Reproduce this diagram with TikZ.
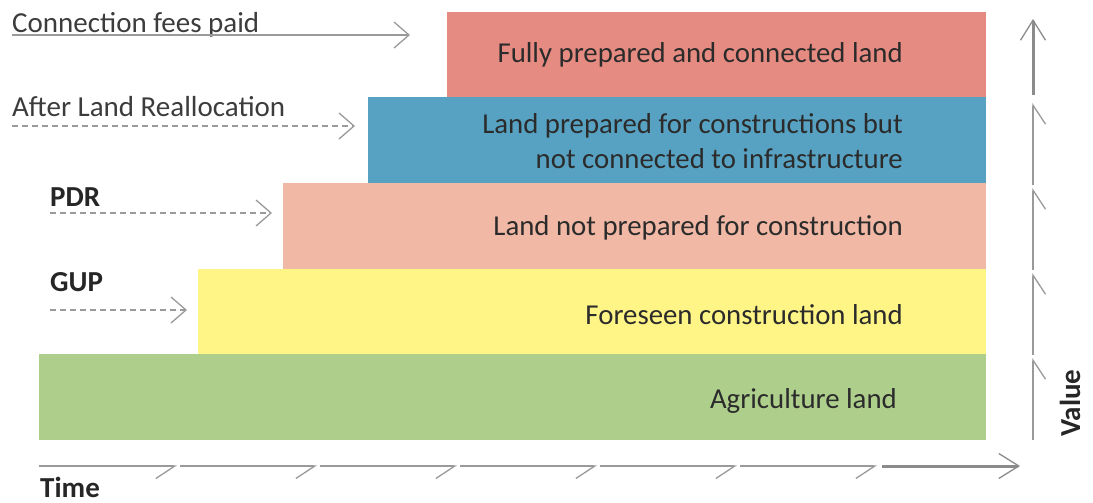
\documentclass[tikz,border=0pt]{standalone}
\usepackage{fontspec}
\setmainfont{Carlito}
\usepackage{tikz}
\usetikzlibrary{arrows.meta}

\definecolor{fullred}{HTML}{E68B81}
\definecolor{prepblue}{HTML}{57A2C2}
\definecolor{rawsalmon}{HTML}{F0B8A5}
\definecolor{foreyellow}{HTML}{FFF587}
\definecolor{agrigreen}{HTML}{AECE8C}
\definecolor{boxtext}{HTML}{2B2B2B}
\definecolor{labeltext}{HTML}{3C3C3C}
\definecolor{axisgray}{HTML}{9A9A9A}

\tikzset{
  band/.style={anchor=north west,inner sep=0pt,minimum width=#1},
  bandtext/.style={anchor=base east,inner sep=0pt,text=boxtext,font=\fontsize{28.8}{35}\selectfont},
  stagelabel/.style={anchor=base west,inner sep=0pt,text=labeltext,font=\fontsize{29}{34}\selectfont},
  boldlabel/.style={anchor=base west,inner sep=0pt,text=black!85,font=\fontsize{29}{34}\selectfont\bfseries},
  stagearrow/.style={draw=axisgray,line width=1.3pt,-{Straight Barb[length=15pt,width=26pt]}},
  axispart/.style={draw=axisgray,line width=1.3pt,-{Straight Barb[right,length=19pt,width=25pt]}},
  axisend/.style={draw=axisgray!90!black,line width=3pt,-{Straight Barb[length=20pt,width=25pt,line width=1.3pt]}}
}

\begin{document}
\begin{tikzpicture}[x=1pt,y=-1pt]
  \useasboundingbox (0,0) rectangle (1093,503);

  % land bands, from bottom to top
  \node [band=947pt,minimum height=86pt,fill=agrigreen]  (agri) at (39,354) {};
  \node [band=788pt,minimum height=85pt,fill=foreyellow] (fore) at (198,269) {};
  \node [band=703pt,minimum height=86pt,fill=rawsalmon]  (raw)  at (283,183) {};
  \node [band=618pt,minimum height=86pt,fill=prepblue]   (prep) at (368,97) {};
  \node [band=539pt,minimum height=85pt,fill=fullred]    (full) at (447,12) {};

  \node [bandtext] (agritext) at (897,408) {Agriculture land};
  \node [bandtext] (foretext) at (903,324) {Foreseen construction land};
  \node [bandtext] (rawtext)  at (903,235) {Land not prepared for construction};
  \node [bandtext,anchor=east,align=right] (preptext) at (903,141)
    {Land prepared for constructions but\\not connected to infrastructure};
  \node [bandtext] (fulltext) at (903,63) {Fully prepared and connected land};

  % stages on the left
  \node [stagelabel] (fees)  at (12,33)  {Connection fees paid};
  \node [stagelabel] (realloc) at (12,117) {After Land Reallocation};
  \node [boldlabel]  (pdr)   at (50,206) {PDR};
  \node [boldlabel]  (gup)   at (50,291) {GUP};

  \coordinate (feesfrom) at (12,35);   \coordinate (feesto) at (410,35);
  \coordinate (reallocfrom) at (12,126); \coordinate (reallocto) at (355,126);
  \coordinate (pdrfrom) at (50,213);   \coordinate (pdrto) at (272,213);
  \coordinate (gupfrom) at (50,310);   \coordinate (gupto) at (187,310);

  \draw [stagearrow] (feesfrom) -- (feesto);
  \draw [stagearrow,dash pattern=on 6pt off 4pt] (reallocfrom) -- (reallocto);
  \draw [stagearrow,dash pattern=on 6pt off 4pt] (pdrfrom) -- (pdrto);
  \draw [stagearrow,dash pattern=on 6pt off 4pt] (gupfrom) -- (gupto);

  % time axis
  \foreach \a/\b in {39/177,180/317,320/457,460/597,600/737,740/877}
    \draw [axispart] (\a,466) -- (\b,466);
  \draw [axisend] (882,466) -- (1020,466);
  \node [boldlabel] (time) at (40,497) {Time};

  % value axis
  \foreach \a/\b in {440/358,355/273,270/188,185/103}
    \draw [axispart] (1033,\a) -- (1033,\b);
  \draw [axisend] (1033,95) -- (1033,19);
  \node [boldlabel,rotate=90] (value) at (1080,437) {Value};
\end{tikzpicture}
\end{document}
